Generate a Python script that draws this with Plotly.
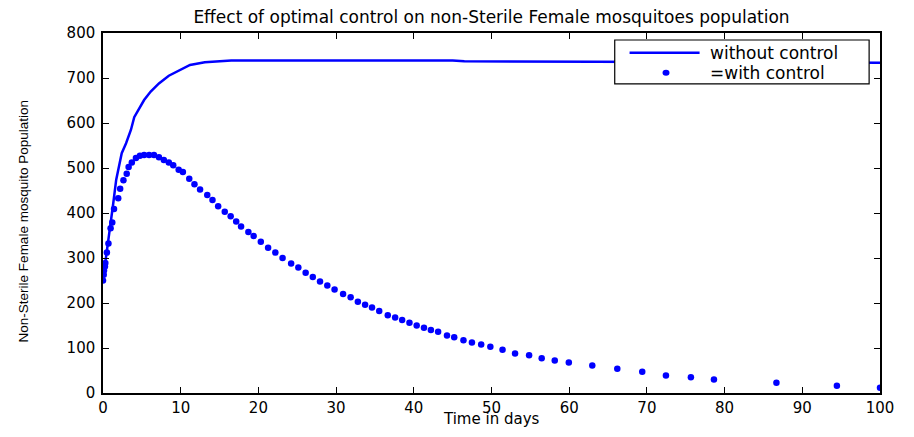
import plotly.graph_objects as go

# "without control" solid line
t_without = [0, 0.43, 0.85, 1.27, 1.70, 2.12, 2.41, 2.97, 3.6, 4.02, 4.66, 5.29, 6.14, 7.2,
             8.47, 9.74, 11.2, 13.1, 15.2, 16.5, 17.5, 30, 45, 46.5, 60, 80, 100]
v_without = [252, 304, 363, 415, 474, 511, 533, 555, 585, 613, 633, 651, 670, 688,
             705, 716, 729, 735, 738, 739, 739, 739, 739, 737, 736, 735, 734]

# "=with control" dots
t_with = [0, 0.09, 0.13, 0.25, 0.30, 0.5, 0.7, 0.98, 1.19, 1.42, 1.96, 2.21, 2.63, 3.05, 3.30,
          3.71, 4.24, 4.75, 5.29, 5.93, 6.56, 7.2, 7.83, 8.47, 9.04, 9.74, 10.28, 11.1, 11.77,
          12.49, 13.42, 14.09, 14.82, 15.67, 16.43, 17.14, 17.77, 18.71, 19.39, 20.31, 21.25,
          22.18, 23.11, 24.21, 25.14, 26.08, 27.0, 27.93, 28.87, 29.8, 30.9, 31.87, 32.8, 33.73,
          34.62, 35.55, 36.65, 37.6, 38.5, 39.44, 40.37, 41.31, 42.2, 43.13, 44.27, 45.2, 46.39,
          47.48, 48.67, 49.85, 51.42, 53.03, 54.84, 56.46, 58.14, 59.95, 62.97, 66.19, 69.4,
          72.45, 75.66, 78.63, 86.67, 94.45, 100]
v_with = [250, 263, 272, 281, 289, 312, 332, 366, 379, 409, 433, 454, 473, 487, 502,
          512, 522, 527, 529, 529, 529, 524, 518, 512, 506, 496, 491, 476, 464,
          452, 440, 429, 415, 403, 393, 381, 370, 358, 349, 336, 323,
          312, 300, 288, 279, 267, 258, 248, 239, 230, 220, 213, 203, 196,
          190, 182, 173, 168, 162, 156, 150, 145, 140, 136, 128, 124, 117,
          112, 108, 103, 96, 88, 84, 77, 72, 68, 61, 54, 47,
          39, 35, 30, 23, 16, 11.5]

x_ticks = [0, 10, 20, 30, 40, 50, 60, 70, 80, 90, 100]
y_ticks = [0, 100, 200, 300, 400, 500, 600, 700, 800]

title_text = "Effect of optimal control on non-Sterile Female mosquitoes population"
x_label = "Time in days"
y_label = "Non-Sterile Female mosquito Population"
legend_labels = ["without control", "=with control"]

BLUE = "#0000ff"
FONT = "DejaVu Sans"

fig = go.Figure()
fig.add_trace(go.Scatter(x=t_without, y=v_without, mode="lines",
                         line=dict(color=BLUE, width=2.5), name=legend_labels[0],
                         showlegend=False))
fig.add_trace(go.Scatter(x=t_with, y=v_with, mode="markers",
                         marker=dict(color=BLUE, size=6.5, line=dict(width=0)),
                         name=legend_labels[1], showlegend=False))

axis_common = dict(showline=True, linecolor="black", linewidth=1.5, mirror="ticks",
                   ticks="inside", ticklen=6, tickwidth=1.2, tickcolor="black",
                   showgrid=False, zeroline=False,
                   tickfont=dict(family=FONT, size=15, color="black"))

fig.update_xaxes(range=[0, 100], tickvals=x_ticks, ticklabelstandoff=0, **axis_common)
fig.update_yaxes(range=[0, 800], tickvals=y_ticks, ticklabelstandoff=3, **axis_common)

# custom legend (paper coordinates)
shapes = [
    dict(type="rect", xref="paper", yref="paper", x0=0.6586, x1=0.9860, y0=0.8585, y1=0.9806,
         line=dict(color="black", width=1.2), fillcolor="white", layer="above"),
    dict(type="line", xref="paper", yref="paper", x0=0.6777, x1=0.7678, y0=0.9454, y1=0.9454,
         line=dict(color=BLUE, width=2.5), layer="above"),
    dict(type="circle", xref="paper", yref="paper", xsizemode="pixel", ysizemode="pixel",
         xanchor=0.7246, yanchor=0.8899, x0=-3.5, x1=3.5, y0=-3, y1=3,
         fillcolor=BLUE, line=dict(width=0), layer="above"),
]
annotations = [
    dict(text=legend_labels[0], xref="paper", yref="paper", x=0.7792, y=0.9454,
         xanchor="left", yanchor="middle", showarrow=False,
         font=dict(family=FONT, size=17, color="black")),
    dict(text=legend_labels[1], xref="paper", yref="paper", x=0.7792, y=0.8899,
         xanchor="left", yanchor="middle", showarrow=False,
         font=dict(family=FONT, size=17, color="black")),
    dict(text=x_label, xref="paper", yref="paper", x=0.5, y=-0.0735,
         xanchor="center", yanchor="middle", showarrow=False,
         font=dict(family=FONT, size=15, color="black")),
    dict(text=y_label, xref="paper", yref="paper", x=-0.1028, y=0.477, textangle=-90,
         xanchor="center", yanchor="middle", showarrow=False,
         font=dict(family="Liberation Sans", size=13.5, color="black")),
]

# the page body has an 8px margin; the figure is sized so that it fits the
# 914x437 window without overflow and its plot area lands where the reference's does
fig.update_layout(
    width=898, height=421,
    margin=dict(l=95, r=15, t=25, b=35.5),
    paper_bgcolor="white", plot_bgcolor="white",
    title=dict(text=title_text, x=0.5, xref="paper", xanchor="center",
               y=1 - 9.5 / 421, yref="container", yanchor="middle",
               font=dict(family=FONT, size=17, color="black")),
    shapes=shapes, annotations=annotations,
    showlegend=False,
)

fig.write_html("out.html")
